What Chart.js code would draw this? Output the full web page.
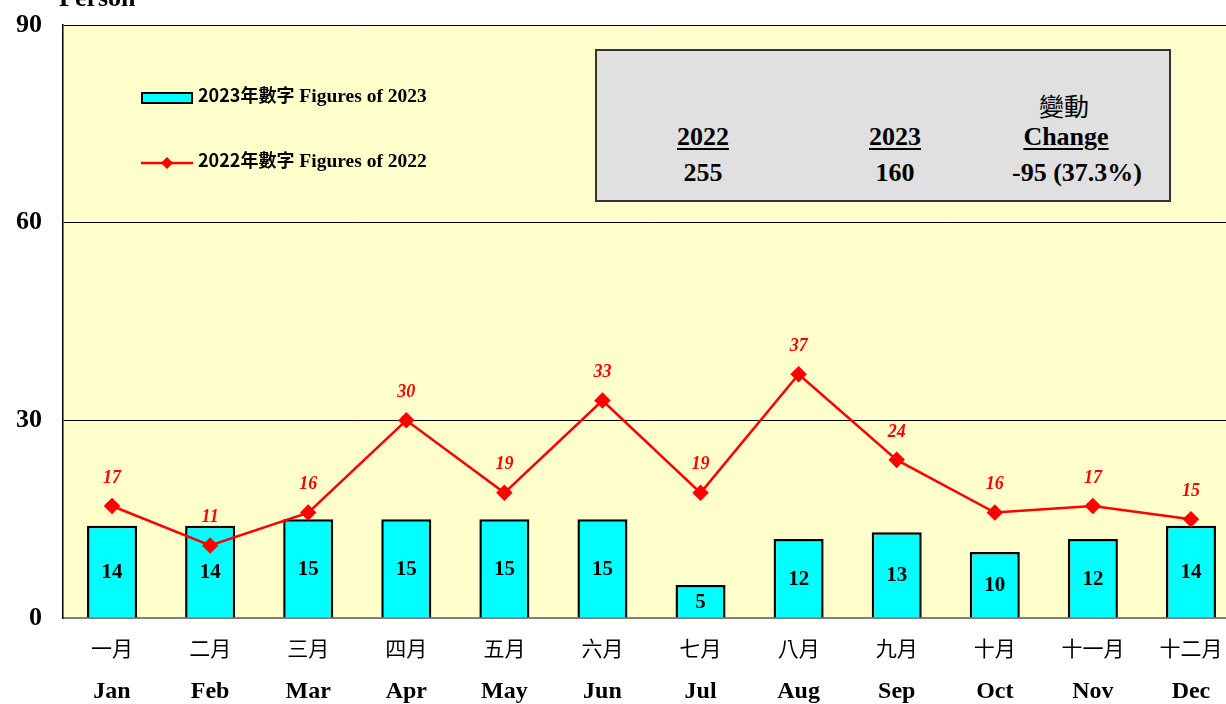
<!DOCTYPE html>
<html><head><meta charset="utf-8">
<script src="https://cdn.jsdelivr.net/npm/chart.js@4/dist/chart.umd.min.js"></script>
<style>
html,body{margin:0;padding:0;background:#fff;overflow:hidden;}
#wrap{position:relative;width:1226px;height:704px;overflow:hidden;}
canvas{position:absolute;left:0;top:0;}
.serif{font-family:"Liberation Serif","DejaVu Serif",serif;font-weight:bold;color:#000;}
#person{position:absolute;left:59px;top:-17px;font-size:26px;}
#legend{position:absolute;left:141px;top:80px;font-size:19.5px;}
.lrow{position:absolute;left:0;white-space:nowrap;height:22px;line-height:22px;}
.cjk{font-family:"Noto Sans CJK TC",sans-serif;}
#box{position:absolute;left:595px;top:49px;width:572px;height:149px;background:#E0E0E0;border:2px solid #333;}
.bt{position:absolute;transform:translate(-50%,-50%);white-space:nowrap;font-size:26px;}
.u{text-decoration:underline;text-decoration-thickness:2px;text-underline-offset:3px;}
</style></head>
<body><div id="wrap">
<canvas id="c" width="1240" height="704" style="width:1240px;height:704px;"></canvas>
<div id="person" class="serif">Person</div>
<div id="legend" class="serif">
  <div class="lrow" style="top:3px;"><span style="display:inline-block;width:48px;height:8px;background:#00FFFF;border:2px solid #000;vertical-align:middle;margin-right:5px;"></span><span class="cjk" style="font-weight:bold;font-size:18px;">2023年數字</span> Figures of 2023</div>
  <div class="lrow" style="top:68px;"><svg width="52" height="14" style="vertical-align:middle;margin-right:5px;"><line x1="0" y1="7" x2="52" y2="7" stroke="#FF0000" stroke-width="2.5"/><polygon points="26,1 32,7 26,13 20,7" fill="#FF0000"/></svg><span class="cjk" style="font-weight:bold;font-size:18px;">2022年數字</span> Figures of 2022</div>
</div>
<div id="box" class="serif">
  <div class="bt u" style="left:106px;top:86px;">2022</div>
  <div class="bt" style="left:106px;top:122px;">255</div>
  <div class="bt u" style="left:298px;top:86px;">2023</div>
  <div class="bt" style="left:298px;top:122px;">160</div>
  <div class="bt cjk" style="left:467px;top:54px;font-weight:normal;font-size:25px;">變動</div>
  <div class="bt u" style="left:469px;top:86px;">Change</div>
  <div class="bt" style="left:480px;top:122px;">-95 (37.3%)</div>
</div>
</div>
<script>
const monthsZh = ['一月','二月','三月','四月','五月','六月','七月','八月','九月','十月','十一月','十二月'];
const monthsEn = ['Jan','Feb','Mar','Apr','May','Jun','Jul','Aug','Sep','Oct','Nov','Dec'];
const figures2023 = [14,14,15,15,15,15,5,12,13,10,12,14];
const figures2022 = [17,11,16,30,19,33,19,37,24,16,17,15];
const yTicks = [0,30,60,90];

const bgPlugin = {
  id:'bg',
  beforeDraw(chart){
    const {ctx, chartArea:a} = chart;
    ctx.save(); ctx.fillStyle='#FFFFCC';
    ctx.fillRect(a.left,a.top,a.right-a.left,a.bottom-a.top);
    ctx.restore();
  }
};
const labelPlugin = {
  id:'labels',
  afterDatasetsDraw(chart){
    const ctx = chart.ctx;
    ctx.save();
    ctx.textAlign='center'; ctx.textBaseline='middle';
    const barMeta = chart.getDatasetMeta(0);
    ctx.fillStyle='#000';
    ctx.font='bold 21px "Liberation Serif", serif';
    barMeta.data.forEach((el,i)=>{
      const y = (el.y + el.base)/2;
      ctx.fillText(String(figures2023[i]), el.x, y+1);
    });
    const lineMeta = chart.getDatasetMeta(1);
    ctx.fillStyle='#FF0000';
    ctx.font='italic bold 18px "Liberation Serif", serif';
    lineMeta.data.forEach((el,i)=>{
      ctx.fillText(String(figures2022[i]), el.x, el.y-28);
    });
    const xs = chart.scales.x;
    monthsZh.forEach((m,i)=>{
      const x = xs.getPixelForValue(i);
      ctx.fillStyle='#000';
      ctx.font='21px "Noto Sans CJK TC", sans-serif';
      ctx.fillText(m, x, 648);
      ctx.font='bold 24px "Liberation Serif", serif';
      ctx.fillText(monthsEn[i], x, 692);
    });
    ctx.restore();
  }
};

new Chart(document.getElementById('c'), {
  data:{
    labels: monthsEn,
    datasets:[
      {type:'bar', label:'2023', data:figures2023, backgroundColor:'#00FFFF', borderColor:'#000', borderWidth:2.5,
       barPercentage:0.51, categoryPercentage:1, order:1},
      {type:'line', label:'2022', data:figures2022, borderColor:'#FF0000', backgroundColor:'#FF0000', borderWidth:2.5,
       pointStyle:'rectRot', pointRadius:6.5, pointHoverRadius:6.5, tension:0, order:0}
    ]
  },
  options:{
    responsive:false, animation:false, devicePixelRatio:1,
    layout:{autoPadding:false, padding:{top:25,right:0,left:0,bottom:0}},
    plugins:{legend:{display:false}, tooltip:{enabled:false}},
    scales:{
      x:{type:'category', offset:true, grid:{display:false, drawTicks:false},
         border:{display:true,color:'#808080',width:2},
         ticks:{display:false},
         afterFit(s){ s.height = 86; s.paddingLeft=0; s.paddingRight=0; s.paddingTop=0; s.paddingBottom=0; }},
      y:{min:0,max:90, afterBuildTicks(s){ s.ticks = yTicks.map(v=>({value:v})); },
         grid:{color:(c)=> c.tick && c.tick.value===0 ? 'rgba(0,0,0,0)' : '#000', lineWidth:1, drawTicks:false},
         border:{display:true,color:'#000',width:1.5},
         ticks:{padding:21, color:'#000', font:{family:'"Liberation Serif", serif', weight:'bold', size:26}},
         afterFit(s){ s.width = 63; s.paddingTop=0; s.paddingBottom=0; s.paddingLeft=0; s.paddingRight=0; }}
    }
  },
  plugins:[bgPlugin,labelPlugin]
});
</script>
</body></html>
